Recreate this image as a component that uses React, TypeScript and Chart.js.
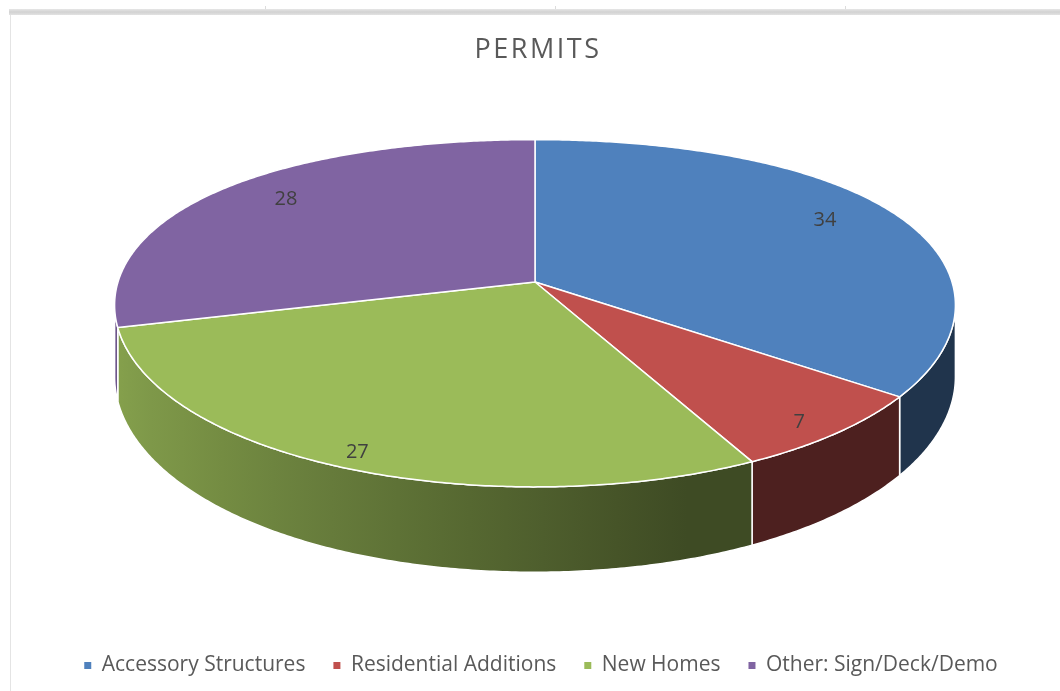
import React, { useEffect, useRef } from "react";
import { Chart, registerables } from "chart.js";

Chart.register(...registerables);

// ---- data ----
const chartTitle = "PERMITS";
const categories = [
  "Accessory Structures",
  "Residential Additions",
  "New Homes",
  "Other: Sign/Deck/Demo",
];
const permitCounts = [34, 7, 27, 28];
const sliceColors = ["#4f81bd", "#c0504d", "#9bbb59", "#8064a2"];

// ---- 3D projection settings (styling / layout) ----
const CX = 535;
const CY = 282;
const RX = 417;
const RY = 168;
const PERSP_X = -0.12;
const PERSP_X2 = -0.053;
const PERSP_Y = -0.18;
const DEPTH = 70;
const LABEL_RX = 352;
const LABEL_RY = 153;
const LABEL_P = -0.2;
const FONT = '"Open Sans", "DejaVu Sans", sans-serif';

function proj(theta: number, drop = 0) {
  const u = Math.sin(theta);
  const v = -Math.cos(theta);
  const dx = 1 + PERSP_X * v + PERSP_X2 * v * v;
  const dy = 1 + PERSP_Y * v;
  return {
    x: CX + (RX * u) / dx,
    y: CY + (RY * v) / dy + drop / dy,
  };
}

function hexToRgb(hex: string) {
  const n = parseInt(hex.slice(1), 16);
  return [(n >> 16) & 255, (n >> 8) & 255, n & 255];
}

function shade(hex: string, f: number) {
  const [r, g, b] = hexToRgb(hex);
  return `rgb(${Math.round(r * f)},${Math.round(g * f)},${Math.round(b * f)})`;
}

function sideFactor(theta: number) {
  const s = Math.min(1, Math.max(0, (-Math.sin(theta) + 0.3) / 1.3));
  return 0.4 + 0.47 * s;
}

const frame = {
  id: "frame",
  beforeDraw(chart: any) {
    const ctx = chart.ctx;
    ctx.save();
    ctx.fillStyle = "#ffffff";
    ctx.fillRect(0, 0, chart.width, chart.height);
    const g = ctx.createLinearGradient(0, 9, 0, 15);
    g.addColorStop(0, "#e6e6e6");
    g.addColorStop(0.5, "#d2d2d2");
    g.addColorStop(1, "#e2e2e2");
    ctx.fillStyle = g;
    ctx.fillRect(9, 9, chart.width - 9, 6);
    ctx.fillStyle = "#e4e4e4";
    ctx.fillRect(10, 15, 1, chart.height - 15);
    ctx.fillStyle = "#dcdcdc";
    [265, 555, 845].forEach((x) => ctx.fillRect(x, 6, 1, 3));
    // title
    ctx.fillStyle = "#595959";
    ctx.font = `27px ${FONT}`;
    ctx.textAlign = "center";
    ctx.textBaseline = "middle";
    try {
      (ctx as any).letterSpacing = "2.5px";
    } catch (e) {}
    ctx.fillText(chartTitle, 538, 50);
    try {
      (ctx as any).letterSpacing = "0px";
    } catch (e) {}
    ctx.restore();
  },
};

const pie3d = {
  id: "pie3d",
  beforeDatasetsDraw(chart: any) {
    const ctx = chart.ctx;
    const meta = chart.getDatasetMeta(0);
    const values = chart.data.datasets[0].data as number[];
    const colors = chart.data.datasets[0].backgroundColor as string[];
    const slices = meta.data.map((arc: any) => {
      const p = arc.getProps(["startAngle", "endAngle"], true);
      return [p.startAngle + Math.PI / 2, p.endAngle + Math.PI / 2];
    });

    // silhouette angles (extreme x)
    let thetaR = Math.PI / 2;
    let best = -Infinity;
    for (let t = 0; t <= Math.PI; t += 0.001) {
      const x = proj(t).x;
      if (x > best) {
        best = x;
        thetaR = t;
      }
    }
    const thetaL = 2 * Math.PI - thetaR;
    const step = Math.PI / 360;

    ctx.save();
    ctx.lineJoin = "round";
    // sides
    slices.forEach(([s, e]: number[], i: number) => {
      const a = Math.max(s, thetaR);
      const b = Math.min(e, thetaL);
      if (b <= a) return;
      const n = Math.max(2, Math.ceil((b - a) / step));
      const pa = proj(a);
      const pb = proj(b);
      const grad = ctx.createLinearGradient(pa.x, 0, pb.x, 0);
      const stops = 12;
      for (let k = 0; k <= stops; k++) {
        const t = a + ((b - a) * k) / stops;
        const px = proj(t).x;
        const frac = Math.min(1, Math.max(0, (px - pa.x) / (pb.x - pa.x || 1)));
        grad.addColorStop(frac, shade(colors[i], sideFactor(t)));
      }
      ctx.beginPath();
      for (let k = 0; k <= n; k++) {
        const t = a + ((b - a) * k) / n;
        const p = proj(t);
        if (k === 0) ctx.moveTo(p.x, p.y);
        else ctx.lineTo(p.x, p.y);
      }
      for (let k = n; k >= 0; k--) {
        const t = a + ((b - a) * k) / n;
        const p = proj(t, DEPTH);
        ctx.lineTo(p.x, p.y);
      }
      ctx.closePath();
      ctx.fillStyle = grad;
      ctx.fill();
      ctx.strokeStyle = "#ffffff";
      ctx.lineWidth = 1.5;
      ctx.stroke();
    });

    // top faces
    slices.forEach(([s, e]: number[], i: number) => {
      const n = Math.max(2, Math.ceil((e - s) / step));
      ctx.beginPath();
      ctx.moveTo(CX, CY);
      for (let k = 0; k <= n; k++) {
        const t = s + ((e - s) * k) / n;
        const p = proj(t);
        ctx.lineTo(p.x, p.y);
      }
      ctx.closePath();
      ctx.fillStyle = colors[i];
      ctx.fill();
      ctx.strokeStyle = "#ffffff";
      ctx.lineWidth = 1.5;
      ctx.stroke();
    });

    // labels
    ctx.fillStyle = "#404040";
    ctx.font = `20px ${FONT}`;
    ctx.textAlign = "center";
    ctx.textBaseline = "middle";
    slices.forEach(([s, e]: number[], i: number) => {
      const mid = (s + e) / 2;
      const u = Math.sin(mid);
      const v = -Math.cos(mid);
      const x = CX + (LABEL_RX * u) / (1 + LABEL_P * v);
      const y = CY + (LABEL_RY * v) / (1 + LABEL_P * v);
      ctx.fillText(String(values[i]), x, y);
    });
    ctx.restore();
    return false;
  },
};

export default function App() {
  const canvasRef = useRef<HTMLCanvasElement | null>(null);

  useEffect(() => {
    if (!canvasRef.current) return;
    const chart = new Chart(canvasRef.current, {
      type: "pie",
      data: {
        labels: categories,
        datasets: [
          {
            data: permitCounts,
            backgroundColor: sliceColors,
            borderWidth: 0,
          },
        ],
      },
      options: {
        animation: false,
        responsive: true,
        maintainAspectRatio: false,
        layout: { padding: { left: 22, bottom: 5, top: 90 } },
        plugins: {
          title: { display: false },
          tooltip: { enabled: false },
          legend: {
            display: true,
            position: "bottom",
            labels: {
              boxWidth: 7,
              boxHeight: 7,
              padding: 28,
              color: "#595959",
              font: { family: FONT, size: 21 },
            },
          },
        },
      },
      plugins: [frame, pie3d],
    });
    return () => chart.destroy();
  }, []);

  return (
    <div style={{ position: "absolute", left: 0, top: 0, width: 1060, height: 691 }}>
      <canvas ref={canvasRef} />
    </div>
  );
}
